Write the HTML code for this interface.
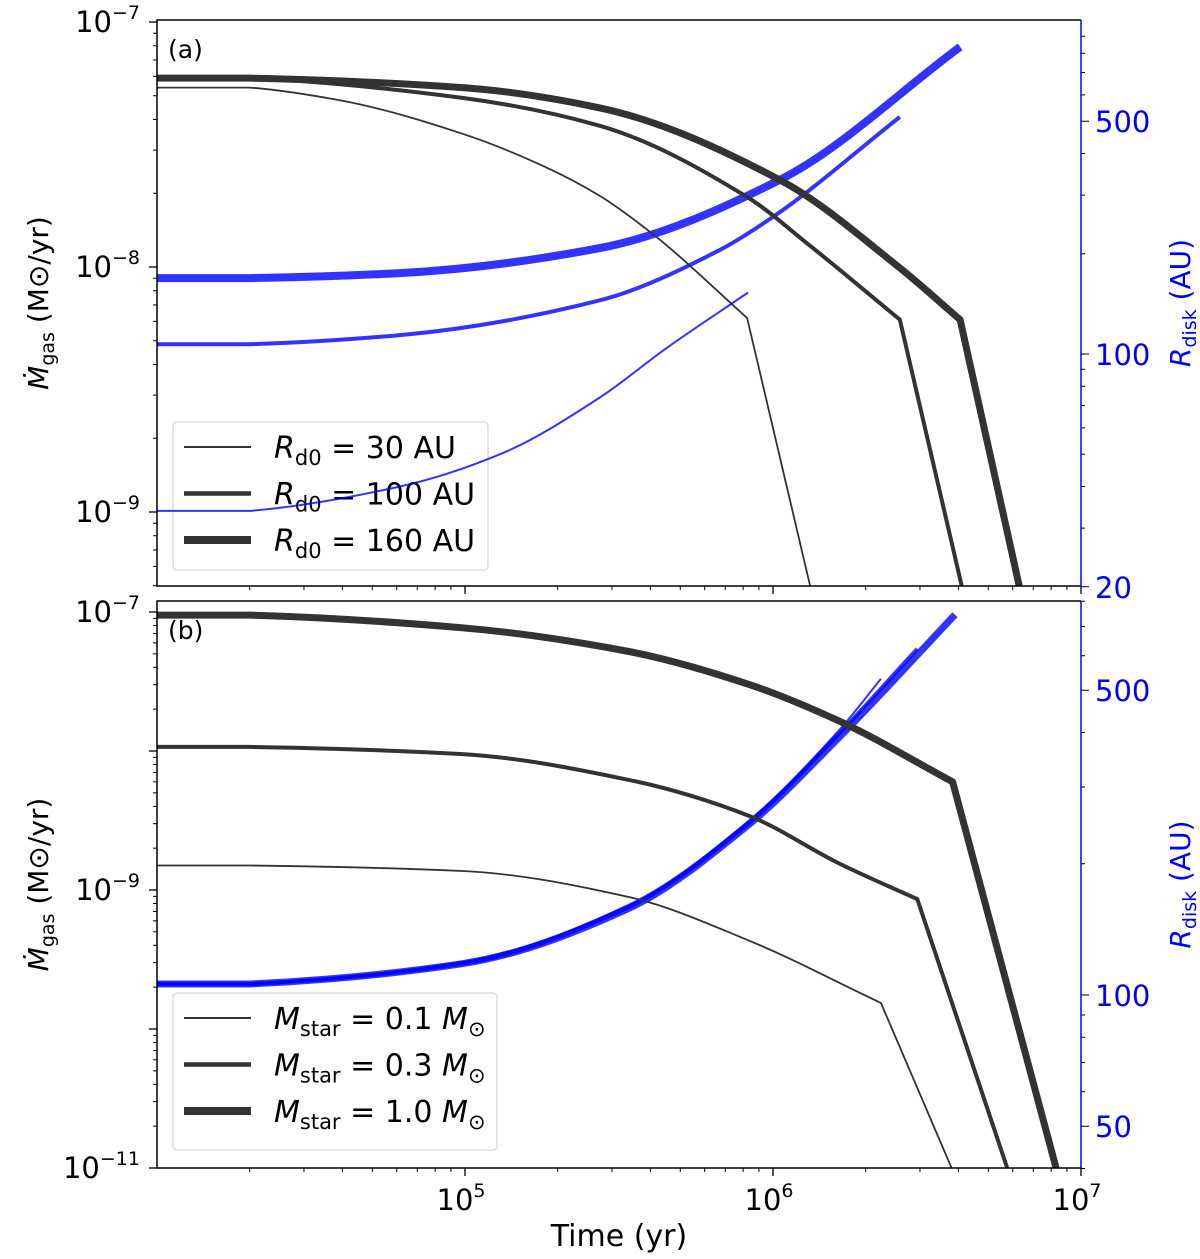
<!DOCTYPE html>
<html><head><meta charset="utf-8"><style>
body{margin:0;background:#fff;}
svg{display:block;font-family:"DejaVu Sans","Liberation Sans",sans-serif;}
</style></head><body>
<svg id="chart" width="1200" height="1259" viewBox="0 0 1200 1259" xmlns="http://www.w3.org/2000/svg">
<defs>
<clipPath id="clipA"><rect x="157" y="20" width="924" height="566"/></clipPath>
<clipPath id="clipB"><rect x="157" y="601" width="924" height="567"/></clipPath>
</defs>
<g id="panelA"></g>
<g id="panelB"></g>
</svg>
<script>
// ---- Panel (a) data ----
const aThinT = [1e4, 2e4, 3.9e4, 9.8e4, 1.8e5, 2.74e5, 4.08e5, 8.24e5, 1.32e6];
const aThinM = [5.4e-8, 5.4e-8, 4.8e-8, 3.5e-8, 2.58e-8, 1.95e-8, 1.36e-8, 6.2e-9, 5e-10];
const aMedT = [1e4, 2e4, 9.8e4, 2.74e5, 8.24e5, 1.32e6, 2.58e6, 4.1e6];
const aMedM = [5.9e-8, 5.9e-8, 4.9e-8, 3.77e-8, 1.93e-8, 1.22e-8, 6.1e-9, 5e-10];
const aThickT = [1e4, 2e4, 9.8e4, 2.74e5, 1.05e6, 2.56e6, 4.05e6, 6.3e6];
const aThickM = [5.9e-8, 5.9e-8, 5.4e-8, 4.46e-8, 2.27e-8, 1.0e-8, 6.1e-9, 5e-10];
const aBThinT = [1e4, 2e4, 6.15e4, 1.3e5, 2.74e5, 4.5e5, 8.3e5];
const aBThinR = [33.8, 33.8, 40, 50, 74, 104, 153];
const aBMedT = [1e4, 2e4, 6.15e4, 2.74e5, 6.7e5, 1e6, 2.58e6];
const aBMedR = [107, 107, 114, 145, 205, 258, 515];
const aBThickT = [1e4, 2e4, 6.15e4, 2.74e5, 1.05e6, 4.05e6];
const aBThickR = [169, 169, 175, 208, 333, 836];
// ---- Panel (b) data ----
const bThinT = [1e4, 2e4, 9.8e4, 3.4e5, 8.4e5, 2.24e6, 3.8e6];
const bThinM = [1.5e-9, 1.5e-9, 1.37e-9, 8.9e-10, 4.3e-10, 1.54e-10, 1e-11];
const bMedT = [1e4, 2e4, 9.8e4, 3.4e5, 8.4e5, 1.64e6, 2.94e6, 5.76e6];
const bMedM = [1.07e-8, 1.07e-8, 9.5e-9, 6.2e-9, 3.4e-9, 1.55e-9, 8.6e-10, 1e-11];
const bThickT = [1e4, 2e4, 9.8e4, 3.4e5, 8.4e5, 1.64e6, 3.83e6, 8.3e6];
const bThickM = [9.5e-8, 9.5e-8, 7.7e-8, 5.2e-8, 3.0e-8, 1.64e-8, 6.0e-9, 1e-11];
const bBThinT = [1e4, 2e4, 9.8e4, 3.4e5, 8.4e5, 1.64e6, 2.24e6];
const bBThinR = [106, 106, 119, 161, 252, 405, 531];
const bBMedT = [1e4, 2e4, 9.8e4, 3.4e5, 8.4e5, 1.64e6, 2.94e6];
const bBMedR = [106, 106, 118, 159, 249, 398, 622];
const bBThickT = [1e4, 2e4, 9.8e4, 3.4e5, 8.4e5, 1.64e6, 3.9e6];
const bBThickR = [106, 106, 118, 158, 247, 390, 745];
const xTickLabels = ["5", "6", "7"];

const NS = "http://www.w3.org/2000/svg";
const L = Math.log10;
const X = t => 157 + 308 * (L(t) - 4);
const yMa = m => 22 + 245 * (-7 - L(m));
const yRa = r => 354 - 333 * (L(r) - 2);
const yMb = m => 612 + 139 * (-7 - L(m));
const yRb = r => 995 - 436 * (L(r) - 2);
const BLACK = "#333", BLUE = "rgba(0,0,255,0.8)";

function mk(tag, parent, attrs) {
  const e = document.createElementNS(NS, tag);
  for (const k in attrs) e.setAttribute(k, attrs[k]);
  parent.appendChild(e);
  return e;
}
function series(parent, ts, vs, yf, color, w, name, clip, kink) {
  const P = ts.map((t, i) => [X(t), yf(vs[i])]);
  const n = P.length;
  if (kink === undefined) kink = n - 1;
  const f = v => v.toFixed(1);
  let d = "M" + f(P[0][0]) + "," + f(P[0][1]) + "L" + f(P[1][0]) + "," + f(P[1][1]);
  const S = P.slice(1, kink + 1), m = S.length;
  const dx = [], sl = [];
  for (let i = 0; i < m - 1; i++) { dx.push(S[i + 1][0] - S[i][0]); sl.push((S[i + 1][1] - S[i][1]) / dx[i]); }
  const tan = [];
  for (let i = 0; i < m; i++) {
    if (i === 0) tan.push(sl[0] * 0.5);
    else if (i === m - 1) tan.push(sl[m - 2]);
    else if (sl[i - 1] * sl[i] <= 0) tan.push(0);
    else {
      const w1 = 2 * dx[i] + dx[i - 1], w2 = dx[i] + 2 * dx[i - 1];
      tan.push((w1 + w2) / (w1 / sl[i - 1] + w2 / sl[i]));
    }
  }
  for (let i = 0; i < m - 1; i++) {
    const h = dx[i] / 3;
    d += "C" + f(S[i][0] + h) + "," + f(S[i][1] + tan[i] * h) + " " + f(S[i + 1][0] - h) + "," + f(S[i + 1][1] - tan[i + 1] * h) + " " + f(S[i + 1][0]) + "," + f(S[i + 1][1]);
  }
  for (let i = kink + 1; i < n; i++) d += "L" + f(P[i][0]) + "," + f(P[i][1]);
  const p = mk("path", parent, {d: d, fill: "none", stroke: color, "stroke-width": w, "stroke-linejoin": "round", "clip-path": "url(#" + clip + ")"});
  
  
}
function txt(parent, x, y, s, size, anchor, fill) {
  const t = mk("text", parent, {x: x, y: y, "font-size": size, "text-anchor": anchor || "start", fill: fill || "#000"});
  t.innerHTML = s;
  return t;
}

function panel(g, top, bot, yM, yR, mDec, rMin, rMax, rLabels, isBottom, clip, label) {
  for (let d = 4; d <= 7; d++) {
    for (let k = 1; k <= 9; k++) {
      const t = k * Math.pow(10, d);
      if (t > 1e7 || (d === 4 && k === 1)) continue;
      const x = X(t), major = k === 1;
      const tk = mk("line", g, {x1: x, x2: x, y1: bot, y2: bot + (major ? 8 : 4), stroke: "#000", "stroke-width": major ? 1.3 : 1});
      
      
    }
  }
  if (isBottom) {
    xTickLabels.forEach((s, i) => {
      const tl = txt(g, X(Math.pow(10, 5 + i)) - 4, bot + 42, "10<tspan font-size='19' dy='-13'>" + s + "</tspan>", 29, "middle");
      
      
    });
    const xt = txt(g, 619, bot + 78, "Time (yr)", 30, "middle");
    
    
  }
  for (let d = mDec[0]; d <= mDec[1]; d++) {
    for (let k = 1; k <= 9; k++) {
      const mm = k * Math.pow(10, d), y = yM(mm);
      if (y < top - 0.5 || y > bot + 0.5) continue;
      const major = k === 1;
      const tk = mk("line", g, {x1: 157, x2: 157 - (major ? 8 : 4), y1: y, y2: y, stroke: "#000", "stroke-width": major ? 1.3 : 1});
      
      
      if (major && (isBottom ? Math.abs(d) % 2 === 1 : true)) {
        const tl = txt(g, 140, y + 10, "10<tspan font-size='19' dy='-13'>−" + (-d) + "</tspan>", 29, "end");
        
        
      }
    }
  }
  for (let d = 1; d <= 2; d++) {
    for (let k = 1; k <= 9; k++) {
      const r = k * Math.pow(10, d);
      if (r < rMin || r > rMax) continue;
      const y = yR(r), major = rLabels.indexOf(r) >= 0;
      const tk = mk("line", g, {x1: 1081, x2: 1081 + (major ? 8 : 4), y1: y, y2: y, stroke: "#000", "stroke-width": 1});
      
      
      if (major) {
        const tl = txt(g, 1095, y + 11, String(r), 29, "start", "#0000ff");
        
        
      }
    }
  }
  const mid = (top + bot) / 2;
  const yt = mk("text", g, {x: 0, y: 0, "font-size": 28, "text-anchor": "middle", transform: "translate(48," + mid + ") rotate(-90)"});
  yt.innerHTML = "<tspan font-style='italic'>Ṁ</tspan><tspan font-size='19' dy='6'>gas</tspan><tspan dy='-6'> (M⊙/yr)</tspan>";
  
  
  const rt = mk("text", g, {x: 0, y: 0, "font-size": 28, "text-anchor": "middle", fill: "#0000ff", transform: "translate(1190," + mid + ") rotate(-90)"});
  rt.innerHTML = "<tspan font-style='italic'>R</tspan><tspan font-size='19' dy='6'>disk</tspan><tspan dy='-6'> (AU)</tspan>";
  
  
  const lb = txt(g, 168, top + 38, label, 25, "start");
  
  
}

function frame(g, top, bot) {
  const f = mk("path", g, {d: "M1081," + top + "H157V" + bot + "H1081", fill: "none", stroke: "#000", "stroke-width": 1.5});
  
  
  const r = mk("line", g, {x1: 1081, x2: 1081, y1: top, y2: bot, stroke: "#0000ff", "stroke-width": 1.5});
  
  
}

function legend(g, x, y, w, h, labels) {
  const lg = mk("g", g, {});
  
  
  mk("rect", lg, {x: x, y: y, width: w, height: h, rx: 4, fill: "rgba(255,255,255,0.8)", stroke: "#ccc", "stroke-width": 1});
  const widths = [2, 4.5, 8];
  labels.forEach((s, i) => {
    const cy = y + 25 + i * 46.5;
    const e = mk("g", lg, {});
    
    
    mk("line", e, {x1: x + 11, x2: x + 78, y1: cy, y2: cy, stroke: BLACK, "stroke-width": widths[i]});
    txt(e, x + 101, cy + 11, s, 30, "start");
  });
}

const gA = document.getElementById("panelA");
const gB = document.getElementById("panelB");
panel(gA, 20, 586, yMa, yRa, [-10, -7], 20, 1000, [20, 100, 500], false, "clipA", "(a)");
series(gA, aBThickT, aBThickR, yRa, BLUE, 8, "rdisk-160au", "clipA");
series(gA, aBMedT, aBMedR, yRa, BLUE, 4, "rdisk-100au", "clipA");
series(gA, aThinT, aThinM, yMa, BLACK, 1.8, "mdot-30au", "clipA", 7);
series(gA, aMedT, aMedM, yMa, BLACK, 4, "mdot-100au", "clipA", 6);
series(gA, aThickT, aThickM, yMa, BLACK, 7, "mdot-160au", "clipA", 6);
legend(gA, 173, 422, 315, 148, [
  "<tspan font-style='italic'>R</tspan><tspan font-size='21' dy='7'>d0</tspan><tspan dy='-7'> = 30 AU</tspan>",
  "<tspan font-style='italic'>R</tspan><tspan font-size='21' dy='7'>d0</tspan><tspan dy='-7'> = 100 AU</tspan>",
  "<tspan font-style='italic'>R</tspan><tspan font-size='21' dy='7'>d0</tspan><tspan dy='-7'> = 160 AU</tspan>"]);
series(gA, aBThinT, aBThinR, yRa, BLUE, 2, "rdisk-30au", "clipA");
frame(gA, 20, 586);

panel(gB, 601, 1168, yMb, yRb, [-11, -7], 40, 800, [50, 100, 500], true, "clipB", "(b)");
series(gB, bBThickT, bBThickR, yRb, BLUE, 7, "rdisk-1.0msun", "clipB");
series(gB, bBMedT, bBMedR, yRb, BLUE, 4, "rdisk-0.3msun", "clipB");
series(gB, bBThinT, bBThinR, yRb, BLUE, 2, "rdisk-0.1msun", "clipB");
series(gB, bThinT, bThinM, yMb, BLACK, 1.8, "mdot-0.1msun", "clipB", 5);
series(gB, bMedT, bMedM, yMb, BLACK, 4, "mdot-0.3msun", "clipB", 6);
series(gB, bThickT, bThickM, yMb, BLACK, 7, "mdot-1.0msun", "clipB", 6);
legend(gB, 173, 993, 324, 157, [
  "<tspan font-style='italic'>M</tspan><tspan font-size='21' dy='7'>star</tspan><tspan dy='-7'> = 0.1 </tspan><tspan font-style='italic'>M</tspan><tspan font-size='21' dy='7'>⊙</tspan>",
  "<tspan font-style='italic'>M</tspan><tspan font-size='21' dy='7'>star</tspan><tspan dy='-7'> = 0.3 </tspan><tspan font-style='italic'>M</tspan><tspan font-size='21' dy='7'>⊙</tspan>",
  "<tspan font-style='italic'>M</tspan><tspan font-size='21' dy='7'>star</tspan><tspan dy='-7'> = 1.0 </tspan><tspan font-style='italic'>M</tspan><tspan font-size='21' dy='7'>⊙</tspan>"]);
frame(gB, 601, 1168);
</script>
</body></html>
